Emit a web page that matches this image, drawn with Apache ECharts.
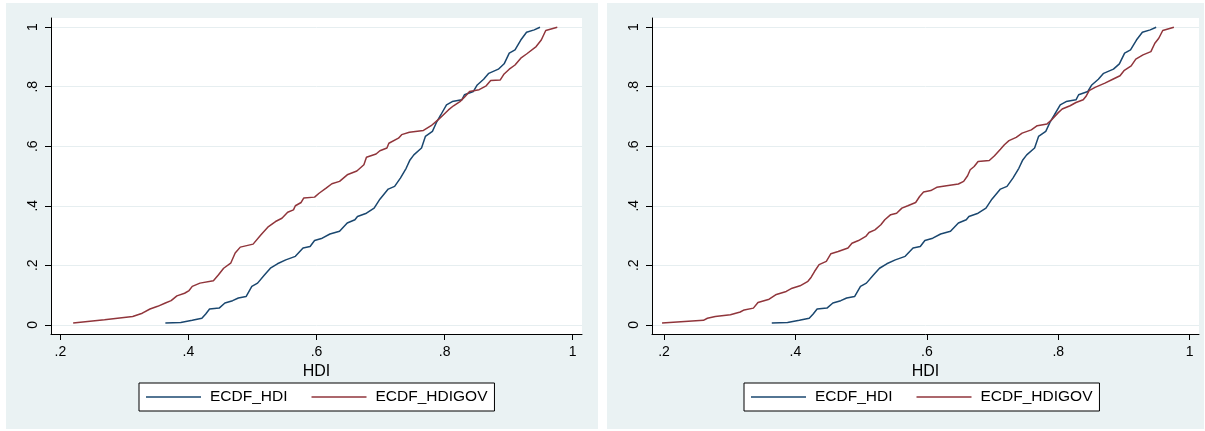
<!DOCTYPE html>
<html>
<head>
<meta charset="utf-8">
<script src="https://cdn.jsdelivr.net/npm/echarts@6/dist/echarts.min.js"></script>
<style>
html,body{margin:0;padding:0;background:#fff;}
#chart{width:1205px;height:431px;}
</style>
</head>
<body>
<div id="chart"></div>
<script>
// ---- data ----
const xTicks = [0.2, 0.4, 0.6, 0.8, 1];
const yTicks = [0, 0.2, 0.4, 0.6, 0.8, 1];
const seriesNames = ['ECDF_HDI', 'ECDF_HDIGOV'];
const xTitle = 'HDI';

// ECDF_HDI (same in both panels)
const hdiX = [0.364,0.388,0.406,0.421,0.427,0.433,0.448,0.457,0.469,0.478,0.490,0.499,0.508,0.519,0.528,0.539,0.552,0.567,0.579,0.590,0.597,0.609,0.621,0.636,0.648,0.660,0.664,0.678,0.690,0.699,0.712,0.722,0.731,0.740,0.746,0.752,0.764,0.770,0.781,0.788,0.794,0.803,0.812,0.827,0.831,0.845,0.851,0.861,0.869,0.884,0.893,0.901,0.910,0.919,0.928,0.940,0.949];
const hdiY = [0.006,0.008,0.015,0.022,0.036,0.053,0.056,0.073,0.081,0.090,0.095,0.129,0.140,0.168,0.190,0.205,0.218,0.230,0.258,0.263,0.283,0.291,0.305,0.314,0.342,0.353,0.364,0.375,0.392,0.422,0.456,0.465,0.493,0.526,0.554,0.571,0.594,0.633,0.650,0.683,0.705,0.739,0.750,0.756,0.773,0.784,0.806,0.825,0.845,0.859,0.877,0.913,0.924,0.957,0.983,0.991,1.000];

// ECDF_HDIGOV, left panel
const govAX = [0.220,0.269,0.270,0.313,0.328,0.340,0.352,0.364,0.373,0.382,0.394,0.401,0.406,0.418,0.439,0.447,0.455,0.466,0.473,0.481,0.501,0.513,0.525,0.536,0.546,0.555,0.564,0.567,0.576,0.580,0.597,0.604,0.615,0.624,0.636,0.648,0.663,0.674,0.678,0.693,0.699,0.710,0.713,0.728,0.733,0.745,0.767,0.779,0.791,0.806,0.814,0.824,0.831,0.839,0.854,0.865,0.872,0.887,0.893,0.901,0.910,0.919,0.928,0.943,0.951,0.958,0.976];
const govAY = [0.006,0.017,0.020,0.028,0.039,0.053,0.062,0.073,0.081,0.097,0.106,0.115,0.129,0.140,0.148,0.168,0.190,0.207,0.241,0.261,0.271,0.302,0.330,0.347,0.358,0.378,0.386,0.400,0.411,0.426,0.429,0.442,0.459,0.474,0.482,0.504,0.517,0.538,0.563,0.574,0.585,0.594,0.610,0.627,0.639,0.647,0.653,0.669,0.691,0.722,0.736,0.750,0.765,0.784,0.790,0.803,0.821,0.823,0.843,0.859,0.873,0.896,0.910,0.935,0.957,0.989,1.000];

// ECDF_HDIGOV, right panel
const govBX = [0.197,0.260,0.266,0.278,0.301,0.316,0.322,0.336,0.343,0.360,0.371,0.386,0.395,0.407,0.419,0.424,0.429,0.436,0.447,0.454,0.465,0.480,0.486,0.496,0.507,0.512,0.521,0.530,0.536,0.545,0.554,0.562,0.571,0.583,0.589,0.595,0.606,0.615,0.630,0.648,0.656,0.662,0.666,0.672,0.678,0.695,0.703,0.712,0.718,0.725,0.736,0.745,0.759,0.768,0.783,0.790,0.800,0.806,0.818,0.827,0.838,0.842,0.847,0.856,0.871,0.883,0.894,0.900,0.911,0.918,0.929,0.941,0.947,0.953,0.959,0.976];
const govBY = [0.006,0.015,0.022,0.028,0.034,0.043,0.050,0.056,0.075,0.086,0.102,0.112,0.123,0.131,0.146,0.160,0.179,0.202,0.213,0.239,0.246,0.258,0.274,0.283,0.297,0.310,0.319,0.336,0.353,0.370,0.375,0.392,0.400,0.411,0.431,0.446,0.451,0.462,0.467,0.473,0.482,0.501,0.521,0.532,0.549,0.552,0.568,0.590,0.605,0.619,0.630,0.644,0.655,0.669,0.675,0.689,0.713,0.725,0.736,0.747,0.756,0.767,0.787,0.798,0.812,0.825,0.837,0.854,0.870,0.893,0.907,0.918,0.946,0.963,0.989,1.000];

// ---- chart ----
const FONT = '"Liberation Sans", Arial, Helvetica, sans-serif';
const BLUE = '#1a476f';
const RED = '#90353b';
const PANEL_BG = '#eaf2f3';

function pairs(xs, ys){ return xs.map((x, i) => [x, ys[i]]); }
function fmt(v){
  if (Math.abs(v) < 1e-9) return '0';
  if (Math.abs(v - 1) < 1e-9) return '1';
  return String(+v.toFixed(2)).replace(/^0\./, '.');
}

function xAxisFor(gi, min, max){
  return {
    type: 'value', gridIndex: gi, min: min, max: max,
    name: xTitle, nameLocation: 'middle', nameGap: 22,
    nameTextStyle: {fontSize: 16, color: '#000', fontFamily: FONT},
    axisLine: {show: true, onZero: false, lineStyle: {color: '#000', width: 1}},
    axisTick: {show: true, length: 6, inside: false, customValues: xTicks, lineStyle: {color: '#000'}},
    axisLabel: {show: true, customValues: xTicks, formatter: fmt, fontSize: 14, color: '#000', fontFamily: FONT, margin: 11},
    splitLine: {show: false}
  };
}
function yAxisFor(gi){
  return {
    type: 'value', gridIndex: gi, min: -0.031, max: 1.031,
    axisLine: {show: true, onZero: false, lineStyle: {color: '#000', width: 1}},
    axisTick: {show: true, length: 6, inside: false, customValues: yTicks, lineStyle: {color: '#000'}},
    axisLabel: {show: true, customValues: yTicks, formatter: fmt, rotate: 90, fontSize: 14, color: '#000', fontFamily: FONT, margin: 11},
    splitLine: {show: true, lineStyle: {color: '#e6eef0', width: 1}}
  };
}
function lineSeries(name, gi, data, color){
  return {
    name: name, type: 'line', xAxisIndex: gi, yAxisIndex: gi,
    data: data, showSymbol: false, symbol: 'none', smooth: false,
    lineStyle: {color: color, width: 1.5}, itemStyle: {color: color},
    animation: false, silent: true
  };
}
function legendFor(left){
  return {
    left: left, top: 383, orient: 'horizontal', data: seriesNames,
    icon: 'rect', itemWidth: 55, itemHeight: 1.5, itemGap: 24,
    padding: [6, 7, 6, 7], borderColor: '#000', borderWidth: 1, backgroundColor: '#fff',
    selectedMode: false,
    textStyle: {fontSize: 15.5, color: '#000', fontFamily: FONT, padding: [0, 0, 0, 4]}
  };
}

const chart = echarts.init(document.getElementById('chart'), null, {renderer: 'canvas'});
chart.setOption({
  animation: false,
  backgroundColor: '#fff',
  graphic: [
    {type: 'rect', shape: {x: 6, y: 3, width: 592, height: 426}, style: {fill: PANEL_BG}, z: -10, silent: true},
    {type: 'rect', shape: {x: 607, y: 3, width: 597, height: 426}, style: {fill: PANEL_BG}, z: -10, silent: true}
  ],
  grid: [
    {left: 51, top: 18, width: 531, height: 316, show: true, backgroundColor: '#fff', borderWidth: 0, containLabel: false},
    {left: 652, top: 18, width: 547, height: 316, show: true, backgroundColor: '#fff', borderWidth: 0, containLabel: false}
  ],
  xAxis: [xAxisFor(0, 0.1854, 1.0146), xAxisFor(1, 0.1817, 1.0142)],
  yAxis: [yAxisFor(0), yAxisFor(1)],
  legend: [legendFor(139), legendFor(744)],
  series: [
    lineSeries(seriesNames[0], 0, pairs(hdiX, hdiY), BLUE),
    lineSeries(seriesNames[1], 0, pairs(govAX, govAY), RED),
    lineSeries(seriesNames[0], 1, pairs(hdiX, hdiY), BLUE),
    lineSeries(seriesNames[1], 1, pairs(govBX, govBY), RED)
  ]
});
</script>
</body>
</html>
